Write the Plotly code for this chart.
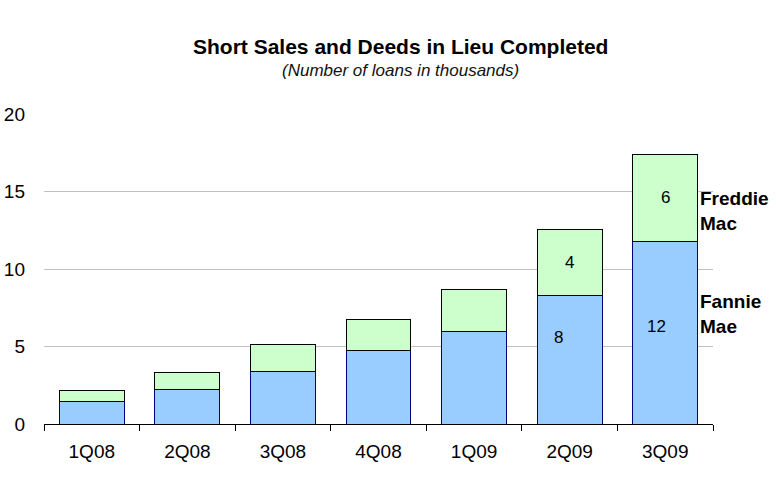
import plotly.graph_objects as go

quarters = ["1Q08", "2Q08", "3Q08", "4Q08", "1Q09", "2Q09", "3Q09"]
fannie = [1.42, 2.20, 3.37, 4.72, 5.95, 8.28, 11.78]
freddie = [0.72, 1.10, 1.74, 2.01, 2.72, 4.28, 5.63]
y_ticks = [0, 5, 10, 15, 20]

# value labels: (category, label y position, text)
value_labels = [("2Q09", 5.6, "8"), ("2Q09", 10.45, "4"), ("3Q09", 6.3, "12"), ("3Q09", 14.6, "6")]
value_shift = [-11, 0, -9, 0]

FONT = "Liberation Sans, Arial, sans-serif"

W, H = 776, 486
L, R, T, B = 44, 63, 114, 62
pw, ph = W - L - R, H - T - B

fig = go.Figure()
fig.add_trace(go.Bar(x=quarters, y=fannie, name="Fannie Mae",
                     marker=dict(color="#99CCFF", line=dict(color="#000080", width=1))))
fig.add_trace(go.Bar(x=quarters, y=freddie, name="Freddie Mac",
                     marker=dict(color="#CCFFCC", line=dict(color="#000000", width=1))))

annotations = [
    dict(text="<b>Short Sales and Deeds in Lieu Completed</b>", x=(400 - L) / pw, y=(T - 46) / ph + 1,
         xref="paper", yref="paper", showarrow=False, xanchor="center", yanchor="middle",
         font=dict(size=21, color="black", family=FONT)),
    dict(text="<i>(Number of loans in thousands)</i>", x=(400 - L) / pw, y=(T - 70) / ph + 1,
         xref="paper", yref="paper", showarrow=False, xanchor="center", yanchor="middle",
         font=dict(size=17, color="#111111", family=FONT)),
    dict(text="<b>Freddie<br>Mac</b>", x=(698 - L) / pw, y=13.75, xref="paper", yref="y", xanchor="left",
         yanchor="middle", align="left", showarrow=False, font=dict(size=19, color="black", family=FONT)),
    dict(text="<b>Fannie<br>Mae</b>", x=(698 - L) / pw, y=7.1, xref="paper", yref="y", xanchor="left",
         yanchor="middle", align="left", showarrow=False, font=dict(size=19, color="black", family=FONT)),
]
for (cat, yv, txt), sh in zip(value_labels, value_shift):
    annotations.append(dict(text=txt, x=cat, y=yv, xref="x", yref="y", showarrow=False, xshift=sh,
                            font=dict(size=17, color="black", family=FONT)))

fig.update_layout(
    barmode="stack",
    bargap=0.32,
    width=W, height=H,
    margin=dict(l=L, r=R, t=T, b=B, autoexpand=False),
    plot_bgcolor="white", paper_bgcolor="white",
    showlegend=False,
    font=dict(family=FONT, size=19, color="black"),
    annotations=annotations,
    xaxis=dict(showline=True, linecolor="black", linewidth=1.3, ticks="outside", ticklen=6,
               tickwidth=1.3, tickcolor="black", tickson="boundaries", showgrid=False,
               ticklabelstandoff=10, tickfont=dict(size=19), automargin=False),
    yaxis=dict(range=[0, 20], tickvals=y_ticks, showline=False, ticks="", showgrid=True,
               gridcolor="#C0C0C0", gridwidth=1, zeroline=False, ticklabelstandoff=18,
               tickfont=dict(size=19), automargin=False),
)

fig.write_html("out.html", config={"displayModeBar": False},
               post_script="document.body.style.margin='0';document.body.style.overflow='hidden';")
